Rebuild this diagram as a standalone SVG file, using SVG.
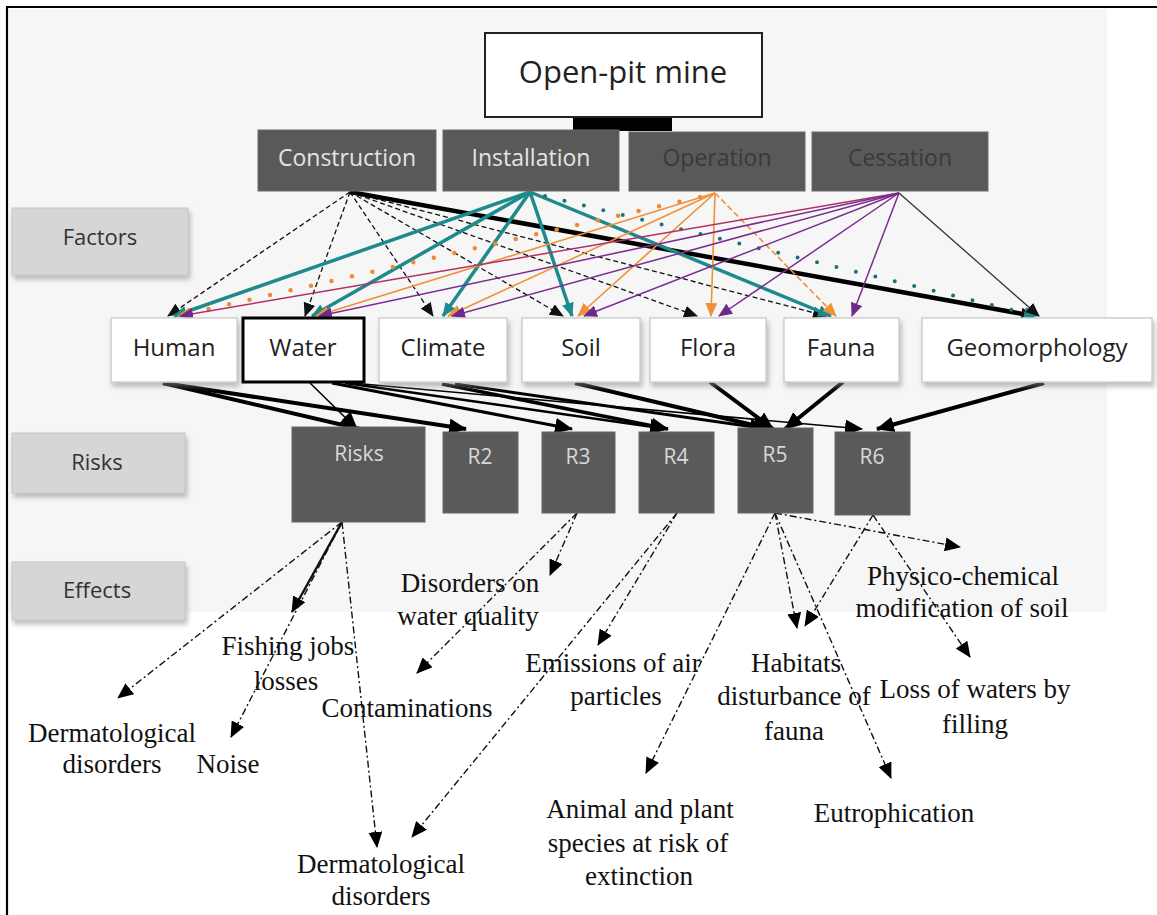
<svg xmlns="http://www.w3.org/2000/svg" width="1157" height="915" viewBox="0 0 1157 915">
<style>
.sans{font-family:"Open Sans","Noto Sans","DejaVu Sans",sans-serif}
.serif{font-family:"Liberation Serif","Times New Roman",serif;font-size:27px;fill:#111;text-anchor:middle}
.phase{fill:#595959;stroke:#6a6a6a;stroke-width:1}
.factor{fill:#ffffff;stroke:#d0d0d0;stroke-width:1.5}
.risk{fill:#5a5a5a;stroke:#666;stroke-width:1}
.lbl{fill:#d6d6d6;stroke:#c8c8c8;stroke-width:1}
.ftxt{font-size:24px;fill:#222;text-anchor:middle}
.ptxt{font-size:23px;text-anchor:middle}
.rtxt{font-size:21px;fill:#d8d8d8;text-anchor:middle}
.ltxt{font-size:22px;fill:#333;text-anchor:middle}
.cd{stroke:#111;stroke-width:1.3;fill:none;stroke-dasharray:5 3;marker-end:url(#mBlk)}
.ck{stroke:#000;stroke-width:4.5;fill:none;marker-end:url(#mBlk)}
.ct{stroke:#1e8a8c;stroke-width:3.5;fill:none;marker-end:url(#mTeal)}
.ctd{stroke:#1e6f78;stroke-width:4;fill:none;stroke-linecap:round;stroke-dasharray:0 20;marker-end:url(#mTeal)}
.co{stroke:#f0913a;stroke-width:1.6;fill:none;marker-end:url(#mOr)}
.cod{stroke:#ee8a3a;stroke-width:4.5;fill:none;stroke-linecap:round;stroke-dasharray:0 21;marker-end:url(#mOr)}
.cp{stroke:#7b2d8f;stroke-width:1.5;fill:none;marker-end:url(#mPur)}
.cm{stroke:#b03068;stroke-width:1.5;fill:none;marker-end:url(#mPur)}
.cg{stroke:#333;stroke-width:1.3;fill:none;marker-end:url(#mBlk)}
.fr{stroke:#000;fill:none;marker-end:url(#mBig)}
.ef{stroke:#111;stroke-width:1.4;fill:none;stroke-dasharray:7 3 2 3;marker-end:url(#mEff)}
.efs{stroke:#111;stroke-width:2.4;fill:none;marker-end:url(#mEff)}
</style>
<defs>
<filter id="sh" x="-10%" y="-10%" width="130%" height="140%">
<feDropShadow dx="2" dy="4" stdDeviation="2.5" flood-color="#888" flood-opacity="0.55"/>
</filter>
<marker id="mBlk" markerUnits="userSpaceOnUse" markerWidth="14" markerHeight="12" refX="13" refY="6" orient="auto"><path d="M0,0 L14,6 L0,12 Z" fill="#111"/></marker>
<marker id="mTeal" markerUnits="userSpaceOnUse" markerWidth="14" markerHeight="12" refX="13" refY="6" orient="auto"><path d="M0,0 L14,6 L0,12 Z" fill="#1e8a8c"/></marker>
<marker id="mOr" markerUnits="userSpaceOnUse" markerWidth="14" markerHeight="12" refX="13" refY="6" orient="auto"><path d="M0,0 L14,6 L0,12 Z" fill="#f0913a"/></marker>
<marker id="mPur" markerUnits="userSpaceOnUse" markerWidth="14" markerHeight="12" refX="13" refY="6" orient="auto"><path d="M0,0 L14,6 L0,12 Z" fill="#6e2a86"/></marker>
<marker id="mBig" markerUnits="userSpaceOnUse" markerWidth="18" markerHeight="16" refX="17" refY="8" orient="auto"><path d="M0,0 L18,8 L0,16 Z" fill="#000"/></marker>
<marker id="mEff" markerUnits="userSpaceOnUse" markerWidth="16" markerHeight="14" refX="15" refY="7" orient="auto"><path d="M0,0 L16,7 L0,14 Z" fill="#000"/></marker>
</defs>
<rect x="0" y="0" width="1157" height="915" fill="#ffffff"/>
<rect x="9" y="9" width="1098" height="603" fill="#f6f6f6"/>
<path d="M7,915 L7,7 L1157,7" stroke="#000" stroke-width="2.2" fill="none"/>

<g id="side-labels">
<g id="label-factors"><rect class="lbl" x="12" y="208" width="176" height="67" filter="url(#sh)"/><text class="sans ltxt" x="100" y="245">Factors</text></g>
<g id="label-risks"><rect class="lbl" x="12" y="433" width="173" height="60" filter="url(#sh)"/><text class="sans ltxt" x="97" y="470">Risks</text></g>
<g id="label-effects"><rect class="lbl" x="12" y="562" width="173" height="58" filter="url(#sh)"/><text class="sans ltxt" x="97" y="598">Effects</text></g>
</g>

<g id="connectors">
<!-- mine to phases bar -->
<rect x="573" y="118" width="99" height="13" fill="#000"/>
<!-- Construction -->
<line class="cd" x1="350" y1="192" x2="168" y2="316"/>
<line class="cd" x1="350" y1="192" x2="305" y2="316"/>
<line class="cd" x1="350" y1="192" x2="433" y2="316"/>
<line class="cd" x1="350" y1="192" x2="563" y2="316"/>
<line class="cd" x1="350" y1="192" x2="697" y2="316"/>
<line class="cd" x1="350" y1="192" x2="826" y2="316"/>
<line class="ck" x1="350" y1="192" x2="1034" y2="316"/>
<!-- Installation -->
<line class="ct" x1="530" y1="192" x2="174" y2="316"/>
<line class="ct" x1="530" y1="192" x2="312" y2="316"/>
<line class="ct" x1="530" y1="192" x2="443" y2="316"/>
<line class="ct" x1="530" y1="192" x2="572" y2="316"/>
<line class="ct" x1="530" y1="192" x2="831" y2="316"/>
<line class="ctd" x1="545" y1="196" x2="1037" y2="316"/>
<!-- Operation -->
<line class="cod" x1="700" y1="197" x2="178" y2="316"/>
<line class="co" x1="715" y1="193" x2="316" y2="316"/>
<line class="co" x1="715" y1="193" x2="448" y2="316"/>
<line class="co" x1="715" y1="193" x2="578" y2="316"/>
<line class="co" x1="715" y1="193" x2="711" y2="316"/>
<line class="co" x1="715" y1="193" x2="836" y2="316" stroke-dasharray="6 3"/>
<!-- Cessation -->
<line class="cm" x1="899" y1="193" x2="180" y2="316"/>
<line class="cp" x1="899" y1="193" x2="319" y2="316"/>
<line class="cp" x1="899" y1="193" x2="452" y2="316"/>
<line class="cp" x1="899" y1="193" x2="584" y2="316"/>
<line class="cp" x1="899" y1="193" x2="719" y2="316"/>
<line class="cp" x1="899" y1="193" x2="852" y2="316"/>
<line class="cg" x1="899" y1="193" x2="1039" y2="316"/>
<!-- Factors to risks -->
<line class="fr" stroke-width="4" x1="163" y1="383" x2="360" y2="429"/>
<line class="fr" stroke-width="4" x1="163" y1="383" x2="466" y2="429"/>
<line class="fr" stroke-width="1.6" x1="310" y1="383" x2="357" y2="429"/>
<line class="fr" stroke-width="3" x1="332" y1="383" x2="572" y2="429"/>
<line class="fr" stroke-width="2.5" x1="345" y1="383" x2="667" y2="429"/>
<line class="fr" stroke-width="1.6" x1="352" y1="383" x2="862" y2="429"/>
<line class="fr" stroke-width="3.5" x1="442" y1="384" x2="668" y2="429"/>
<line class="fr" stroke-width="3" x1="455" y1="384" x2="767" y2="429"/>
<line class="fr" stroke-width="4" x1="575" y1="383" x2="770" y2="429"/>
<line class="fr" stroke-width="4" x1="710" y1="382" x2="773" y2="429"/>
<line class="fr" stroke-width="4" x1="843" y1="382" x2="785" y2="429"/>
<line class="fr" stroke-width="4" x1="1044" y1="383" x2="877" y2="429"/>
<!-- Risks to effects -->
<line class="ef" x1="342" y1="522" x2="118" y2="698"/>
<line class="efs" x1="342" y1="522" x2="292" y2="612"/>
<line class="ef" x1="342" y1="522" x2="231" y2="737"/>
<line class="ef" x1="342" y1="522" x2="377" y2="847"/>
<line class="ef" x1="577" y1="513" x2="417" y2="673"/>
<line class="ef" x1="577" y1="513" x2="550" y2="575"/>
<line class="ef" x1="677" y1="513" x2="598" y2="645"/>
<line class="ef" x1="677" y1="513" x2="412" y2="837"/>
<line class="ef" x1="775" y1="513" x2="960" y2="547"/>
<line class="ef" x1="775" y1="513" x2="797" y2="628"/>
<line class="ef" x1="775" y1="513" x2="891" y2="778"/>
<line class="ef" x1="775" y1="513" x2="646" y2="773"/>
<line class="ef" x1="873" y1="515" x2="805" y2="626"/>
<line class="ef" x1="873" y1="515" x2="970" y2="657"/>
</g>

<g id="node-mine"><rect x="485" y="33" width="277" height="84" fill="#fff" stroke="#222" stroke-width="2"/><text class="sans" x="623" y="83" font-size="31" fill="#222" text-anchor="middle">Open-pit mine</text></g>

<g id="node-construction"><rect class="phase" x="258" y="130" width="178" height="61"/><text class="sans ptxt" x="347" y="166" fill="#e4e4e4">Construction</text></g>
<g id="node-installation"><rect class="phase" x="443" y="130" width="176" height="61"/><text class="sans ptxt" x="531" y="166" fill="#e4e4e4">Installation</text></g>
<g id="node-operation"><rect class="phase" x="629" y="132" width="176" height="59"/><text class="sans ptxt" x="717" y="166" fill="#3a3a3a">Operation</text></g>
<g id="node-cessation"><rect class="phase" x="812" y="132" width="176" height="59"/><text class="sans ptxt" x="900" y="166" fill="#3a3a3a">Cessation</text></g>

<g id="node-human"><rect class="factor" x="111" y="318" width="126" height="64" filter="url(#sh)"/><text class="sans ftxt" x="174" y="356">Human</text></g>
<g id="node-water"><rect x="243" y="318" width="121" height="64" fill="#fff" stroke="#000" stroke-width="3"/><text class="sans ftxt" x="303" y="356">Water</text></g>
<g id="node-climate"><rect class="factor" x="379" y="318" width="128" height="64" filter="url(#sh)"/><text class="sans ftxt" x="443" y="356">Climate</text></g>
<g id="node-soil"><rect class="factor" x="522" y="318" width="118" height="64" filter="url(#sh)"/><text class="sans ftxt" x="581" y="356">Soil</text></g>
<g id="node-flora"><rect class="factor" x="650" y="318" width="116" height="64" filter="url(#sh)"/><text class="sans ftxt" x="708" y="356">Flora</text></g>
<g id="node-fauna"><rect class="factor" x="784" y="318" width="115" height="64" filter="url(#sh)"/><text class="sans ftxt" x="841" y="356">Fauna</text></g>
<g id="node-geomorphology"><rect class="factor" x="922" y="318" width="230" height="64" filter="url(#sh)"/><text class="sans ftxt" x="1037" y="356">Geomorphology</text></g>

<g id="node-risks"><rect class="risk" x="292" y="427" width="133" height="95"/><text class="sans rtxt" x="359" y="461">Risks</text></g>
<g id="node-r2"><rect class="risk" x="443" y="432" width="75" height="81"/><text class="sans rtxt" x="480" y="464">R2</text></g>
<g id="node-r3"><rect class="risk" x="542" y="432" width="73" height="81"/><text class="sans rtxt" x="578" y="464">R3</text></g>
<g id="node-r4"><rect class="risk" x="639" y="432" width="75" height="81"/><text class="sans rtxt" x="676" y="464">R4</text></g>
<g id="node-r5"><rect class="risk" x="738" y="428" width="75" height="85"/><text class="sans rtxt" x="775" y="462">R5</text></g>
<g id="node-r6"><rect class="risk" x="835" y="432" width="75" height="83"/><text class="sans rtxt" x="872" y="464">R6</text></g>

<g id="effects">
<g id="eff-water-quality"><text class="serif" x="470" y="592">Disorders on</text><text class="serif" x="468" y="625">water quality</text></g>
<g id="eff-fishing"><text class="serif" x="288" y="655">Fishing jobs</text><text class="serif" x="286" y="690">losses</text></g>
<g id="eff-derm1"><text class="serif" x="112" y="742">Dermatological</text><text class="serif" x="112" y="773">disorders</text></g>
<g id="eff-noise"><text class="serif" x="228" y="773">Noise</text></g>
<g id="eff-contam"><text class="serif" x="407" y="717">Contaminations</text></g>
<g id="eff-emissions"><text class="serif" x="613" y="672">Emissions of air</text><text class="serif" x="616" y="705">particles</text></g>
<g id="eff-habitats"><text class="serif" x="796" y="672">Habitats</text><text class="serif" x="794" y="705">disturbance of</text><text class="serif" x="794" y="740">fauna</text></g>
<g id="eff-physico"><text class="serif" x="963" y="585">Physico-chemical</text><text class="serif" x="962" y="617">modification of soil</text></g>
<g id="eff-loss"><text class="serif" x="975" y="698">Loss of waters by</text><text class="serif" x="975" y="733">filling</text></g>
<g id="eff-animal"><text class="serif" x="640" y="818">Animal and plant</text><text class="serif" x="638" y="852">species at risk of</text><text class="serif" x="639" y="885">extinction</text></g>
<g id="eff-eutro"><text class="serif" x="894" y="822">Eutrophication</text></g>
<g id="eff-derm2"><text class="serif" x="381" y="873">Dermatological</text><text class="serif" x="381" y="905">disorders</text></g>
</g>
</svg>
